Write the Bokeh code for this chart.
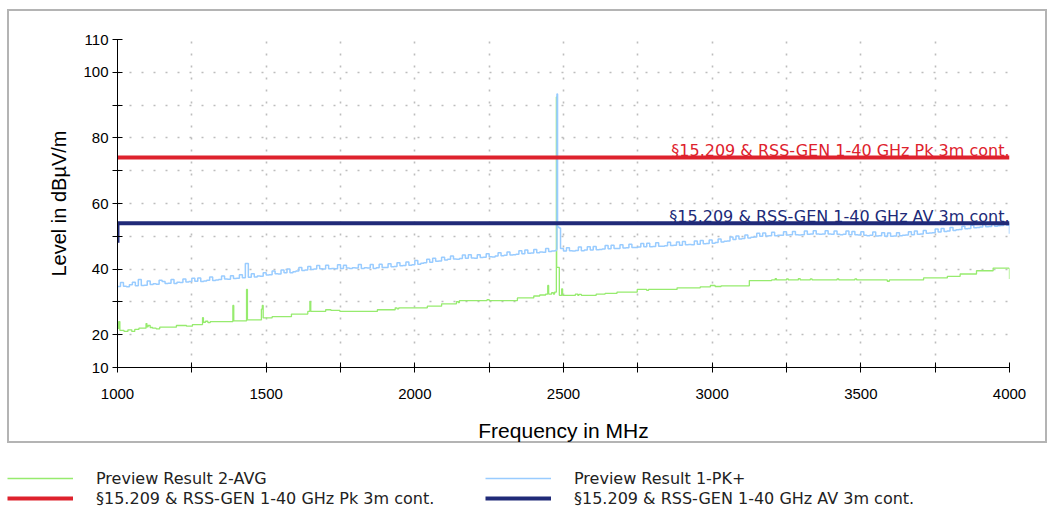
from bokeh.plotting import figure
from bokeh.models import Range1d, FixedTicker, Legend, LegendItem
from bokeh.core.properties import value
from bokeh.embed import file_html
from bokeh.resources import INLINE

# ---------------------------------------------------------------- axes
freq_ticks = [1000, 1250, 1500, 1750, 2000, 2250, 2500, 2750, 3000, 3250, 3500, 3750, 4000]
freq_tick_labels = ["1000", "", "1500", "", "2000", "", "2500", "", "3000", "", "3500", "", "4000"]
level_ticks = [10, 20, 30, 40, 50, 60, 70, 80, 90, 100, 110]
level_tick_labels = ["10", "20", "", "40", "", "60", "", "80", "", "100", "110"]

# ---------------------------------------------------------------- limit lines
pk_limit_name = "\u00a715.209 & RSS-GEN 1-40 GHz Pk 3m cont."
pk_limit_freq = [1000, 4000]
pk_limit_level = [74, 74]

av_limit_name = "\u00a715.209 & RSS-GEN 1-40 GHz AV 3m cont."
av_limit_freq = [1000, 1000, 4000]
av_limit_level = [48, 54, 54]

# ---------------------------------------------------------------- peak preview scan (10 MHz grid, 1000..4000 MHz)
pk_name = "Preview Result 1-PK+"
pk_grid_start = 1000
pk_grid_step = 10
pk_level = [
    34.7, 35.9, 34.8, 34.6, 35.2, 36.0, 34.9, 36.8, 35.0, 35.1,
    36.4, 35.3, 35.5, 35.4, 36.6, 36.2, 35.6, 35.7, 36.8, 35.6,
    36.0, 35.9, 37.0, 36.1, 36.2, 37.2, 36.3, 37.3, 36.2, 36.4,
    36.6, 37.6, 36.5, 36.7, 36.8, 37.9, 37.0, 36.9, 38.0, 37.1,
    37.2, 38.3, 37.4, 41.7, 37.5, 38.6, 37.6, 37.9, 37.8, 38.9,
    38.2, 38.3, 39.4, 38.6, 38.5, 39.7, 38.9, 40.0, 38.9, 39.2,
    39.4, 40.5, 39.6, 39.7, 40.8, 39.9, 40.0, 41.1, 40.1, 40.0,
    41.2, 40.1, 40.2, 40.1, 41.3, 40.2, 41.2, 40.3, 40.2, 40.4,
    40.3, 41.4, 40.2, 40.4, 40.3, 41.4, 40.2, 40.4, 41.5, 40.5,
    40.5, 41.6, 40.7, 40.8, 41.9, 41.0, 41.1, 42.2, 41.2, 41.3,
    42.6, 41.5, 41.8, 41.9, 43.0, 42.1, 43.3, 42.4, 42.5, 43.6,
    42.8, 43.0, 44.0, 43.1, 43.0, 43.2, 44.3, 43.3, 44.4, 43.4,
    43.3, 44.4, 43.5, 43.6, 44.7, 43.8, 43.7, 44.0, 45.0, 44.1,
    44.2, 45.2, 44.3, 44.4, 44.5, 45.6, 44.7, 45.8, 44.8, 44.9,
    46.0, 45.0, 45.2, 45.1, 46.3, 45.4, 45.5, 45.6, 52.8, 46.3,
    45.5, 46.5, 45.6, 45.5, 45.7, 46.7, 45.6, 45.8, 46.8, 45.8,
    46.9, 45.9, 46.0, 46.1, 47.2, 46.2, 47.3, 46.3, 46.3, 47.4,
    46.4, 46.5, 47.6, 46.6, 46.6, 46.7, 47.8, 46.8, 47.9, 46.8,
    46.9, 48.0, 47.0, 47.0, 47.1, 48.2, 47.2, 47.3, 48.3, 47.3,
    48.4, 47.4, 47.5, 47.4, 48.6, 47.6, 48.7, 47.7, 47.8, 48.9,
    47.9, 48.1, 49.2, 48.3, 48.5, 48.6, 49.8, 49.0, 50.1, 49.2,
    49.3, 50.4, 49.5, 49.7, 49.8, 50.9, 50.0, 51.0, 50.1, 50.2,
    51.2, 50.2, 50.3, 50.3, 51.4, 50.4, 50.5, 51.5, 50.5, 50.4,
    50.5, 51.6, 50.6, 50.7, 51.7, 50.7, 50.6, 50.7, 51.7, 50.7,
    50.6, 51.6, 50.6, 50.5, 50.6, 51.6, 50.5, 51.5, 50.5, 50.4,
    51.4, 50.3, 50.2, 50.3, 51.3, 50.1, 50.2, 51.1, 50.0, 51.0,
    50.0, 50.1, 51.1, 50.2, 50.3, 50.4, 51.4, 50.5, 51.6, 50.6,
    50.7, 51.8, 50.9, 51.0, 51.1, 52.2, 51.3, 52.4, 51.5, 51.6,
    52.7, 51.8, 52.0, 52.1, 53.1, 52.3, 52.4, 53.4, 52.6, 52.7,
    52.8, 53.8, 52.9, 53.0, 53.9, 53.1, 53.2, 53.3, 54.1, 53.4,
    50.8,
]
# extra samples between grid points (narrow carrier near 2.48 GHz, sweep end)
pk_extra_freq = [2476, 2478, 2485, 3998]
pk_extra_level = [46.0, 93.4, 52.5, 53.8]

# ---------------------------------------------------------------- average preview scan (breakpoints of a step trace)
avg_name = "Preview Result 2-AVG"
avg_freq = [
    1000, 1004, 1008, 1022, 1035, 1048, 1058, 1072, 1096, 1099,
    1103, 1110, 1118, 1130, 1142, 1198, 1232, 1252, 1286, 1289,
    1296, 1304, 1312, 1388, 1391, 1434, 1437, 1484, 1487, 1490,
    1520, 1585, 1640, 1647, 1650, 1700, 1718, 1748, 1874, 1934,
    1940, 1946, 2042, 2090, 2140, 2146, 2150, 2243, 2250, 2345,
    2400, 2420, 2440, 2447, 2450, 2460, 2466, 2470, 2476, 2477,
    2486, 2494, 2497, 2540, 2548, 2552, 2560, 2610, 2640, 2680,
    2748, 2780, 2786, 2882, 2960, 2994, 3010, 3030, 3125, 3200,
    3212, 3216, 3250, 3256, 3290, 3296, 3330, 3336, 3420, 3426,
    3480, 3486, 3589, 3596, 3711, 3791, 3834, 3889, 3945, 3998,
    4000,
]
avg_level = [
    21.9, 24.0, 21.3, 21.0, 21.5, 21.0, 21.6, 22.0, 23.4, 22.4,
    22.8, 22.2, 22.0, 21.8, 22.3, 22.8, 22.6, 23.1, 25.2, 23.8,
    24.1, 23.7, 24.0, 28.9, 24.2, 33.8, 24.5, 27.8, 28.9, 25.1,
    25.5, 26.3, 27.1, 30.1, 27.1, 27.6, 27.4, 27.1, 27.6, 28.2,
    27.9, 28.2, 28.7, 29.4, 30.1, 29.8, 30.4, 30.7, 30.4, 31.2,
    31.8, 32.1, 32.4, 35.0, 32.4, 32.8, 32.4, 33.0, 92.5, 40.5,
    32.0, 34.0, 32.0, 32.4, 32.0, 32.3, 32.0, 32.4, 32.6, 33.0,
    33.8, 33.5, 33.8, 34.3, 34.6, 35.0, 34.7, 34.9, 36.5, 36.7,
    37.1, 36.7, 37.0, 36.7, 37.1, 36.7, 37.0, 36.7, 37.0, 36.7,
    37.0, 36.7, 36.3, 36.7, 37.3, 37.8, 38.5, 39.5, 40.3, 40.2,
    37.0,
]

# ---------------------------------------------------------------- colours and fonts
C_AVG = "#96eb6e"
C_PK = "#99ccff"
C_PK_LIMIT = "#de222d"
C_AV_LIMIT = "#202a78"
C_BOX = "#b4b4b4"
TICK_FONT = "Liberation Sans"
TITLE_FONT = "Liberation Sans"
NOTE_FONT = "DejaVu Sans"

# merge the peak grid with the extra samples
pk_grid_freq = [pk_grid_start + i * pk_grid_step for i in range(len(pk_level))]
pk_pairs = sorted(zip(pk_grid_freq + pk_extra_freq, pk_level + pk_extra_level))
pk_freq_all = [f for f, _ in pk_pairs]
pk_level_all = [v for _, v in pk_pairs]

# ---------------------------------------------------------------- main chart
p = figure(
    width=1051, height=466,
    x_range=Range1d(freq_ticks[0], freq_ticks[-1]),
    y_range=Range1d(level_ticks[0], level_ticks[-1]),
    output_backend="svg", toolbar_location=None,
    min_border_left=117, min_border_right=42, min_border_top=39, min_border_bottom=99,
)
p.outline_line_color = None
p.background_fill_color = "white"
p.border_fill_color = None
# thin grey box framing the chart area (drawn behind the transparent canvas border)
_bar = f"linear-gradient({C_BOX},{C_BOX})"
p.styles = {
    "background-color": "white",
    "background-image": ", ".join([_bar] * 4),
    "background-size": "1040px 2px, 1040px 2px, 2px 434px, 2px 434px",
    "background-position": "7px 9px, 7px 441px, 7px 9px, 1045px 9px",
    "background-repeat": "no-repeat",
}

# axes
p.xaxis.ticker = FixedTicker(ticks=freq_ticks)
p.yaxis.ticker = FixedTicker(ticks=level_ticks)
p.xaxis.major_label_overrides = {t: s for t, s in zip(freq_ticks, freq_tick_labels)}
p.yaxis.major_label_overrides = {t: s for t, s in zip(level_ticks, level_tick_labels)}
for ax in (p.xaxis, p.yaxis):
    ax.axis_line_color = "black"
    ax.axis_line_width = 1
    ax.major_tick_line_color = "black"
    ax.major_tick_in = 5
    ax.major_tick_out = 5
    ax.minor_tick_line_color = None
    ax.major_label_text_font = TICK_FONT
    ax.major_label_text_font_size = "15px"
    ax.major_label_text_color = "black"
    ax.axis_label_text_font = TITLE_FONT
    ax.axis_label_text_font_style = "normal"
    ax.axis_label_text_color = "black"
p.xaxis.major_label_standoff = 16
p.yaxis.major_label_standoff = 4
p.xaxis.axis_label = "Frequency in MHz"
p.yaxis.axis_label = "Level in dB\u00b5V/m"
p.xaxis.axis_label_text_font_size = "21px"
p.yaxis.axis_label_text_font_size = "20px"
p.xaxis.axis_label_standoff = 17
p.yaxis.axis_label_standoff = 10

# dotted grid
for g in (p.xgrid, p.ygrid):
    g.grid_line_color = "#bdbdbd"
    g.grid_line_width = 1.6
    g.grid_line_dash = "2 10"
p.xgrid.ticker = FixedTicker(ticks=freq_ticks)
p.ygrid.ticker = FixedTicker(ticks=level_ticks)

# measured traces
p.step(avg_freq, avg_level, mode="after", line_color=C_AVG, line_width=1.3)
p.step(pk_freq_all, pk_level_all, mode="after", line_color=C_PK, line_width=1.5)

# limit lines with their names just above them
p.line(pk_limit_freq, pk_limit_level, line_color=C_PK_LIMIT, line_width=4)
p.line(av_limit_freq, av_limit_level, line_color=C_AV_LIMIT, line_width=4, line_join="miter")
p.text(x=[pk_limit_freq[-1]], y=[pk_limit_level[-1]], text=[pk_limit_name],
       text_align="right", text_baseline="alphabetic", y_offset=-7,
       text_font=value(NOTE_FONT), text_font_size="16px", text_color=C_PK_LIMIT)
p.text(x=[av_limit_freq[-1]], y=[av_limit_level[-1]], text=[av_limit_name],
       text_align="right", text_baseline="alphabetic", y_offset=-7,
       text_font=value(NOTE_FONT), text_font_size="16px", text_color=C_AV_LIMIT)

# ---------------------------------------------------------------- legend strip under the chart
# the key renderers carry the same series; the strip's ranges keep them out of view
lf = figure(
    width=1051, height=44,
    x_range=Range1d(0, 1), y_range=Range1d(0, 1),
    x_axis_type=None, y_axis_type=None,
    output_backend="svg", toolbar_location=None,
    min_border_left=0, min_border_right=0, min_border_top=0, min_border_bottom=0,
)
lf.outline_line_color = None
lf.xgrid.visible = False
lf.ygrid.visible = False

key_avg = lf.line(avg_freq, avg_level, line_color=C_AVG, line_width=1.3)
key_pk = lf.line(pk_freq_all, pk_level_all, line_color=C_PK, line_width=1.5)
key_pk_lim = lf.line(pk_limit_freq, pk_limit_level, line_color=C_PK_LIMIT, line_width=4)
key_av_lim = lf.line(av_limit_freq, av_limit_level, line_color=C_AV_LIMIT, line_width=4)


def make_legend(items, loc):
    lg = Legend(items=items, location=loc, orientation="vertical")
    lg.glyph_width = 66
    lg.glyph_height = 20
    lg.label_height = 20
    lg.label_standoff = 23
    lg.spacing = 0
    lg.padding = 0
    lg.margin = 0
    lg.border_line_alpha = 0
    lg.background_fill_alpha = 0
    lg.label_text_font = NOTE_FONT
    lg.label_text_font_size = "16px"
    lg.label_text_color = "#222222"
    return lg


lf.add_layout(make_legend([LegendItem(label=avg_name, renderers=[key_avg]),
                           LegendItem(label=pk_limit_name, renderers=[key_pk_lim])],
                          (7, 2)))
lf.add_layout(make_legend([LegendItem(label=pk_name, renderers=[key_pk]),
                           LegendItem(label=av_limit_name, renderers=[key_av_lim])],
                          (485, 2)))

open("out.html", "w").write(file_html([p, lf], INLINE))
